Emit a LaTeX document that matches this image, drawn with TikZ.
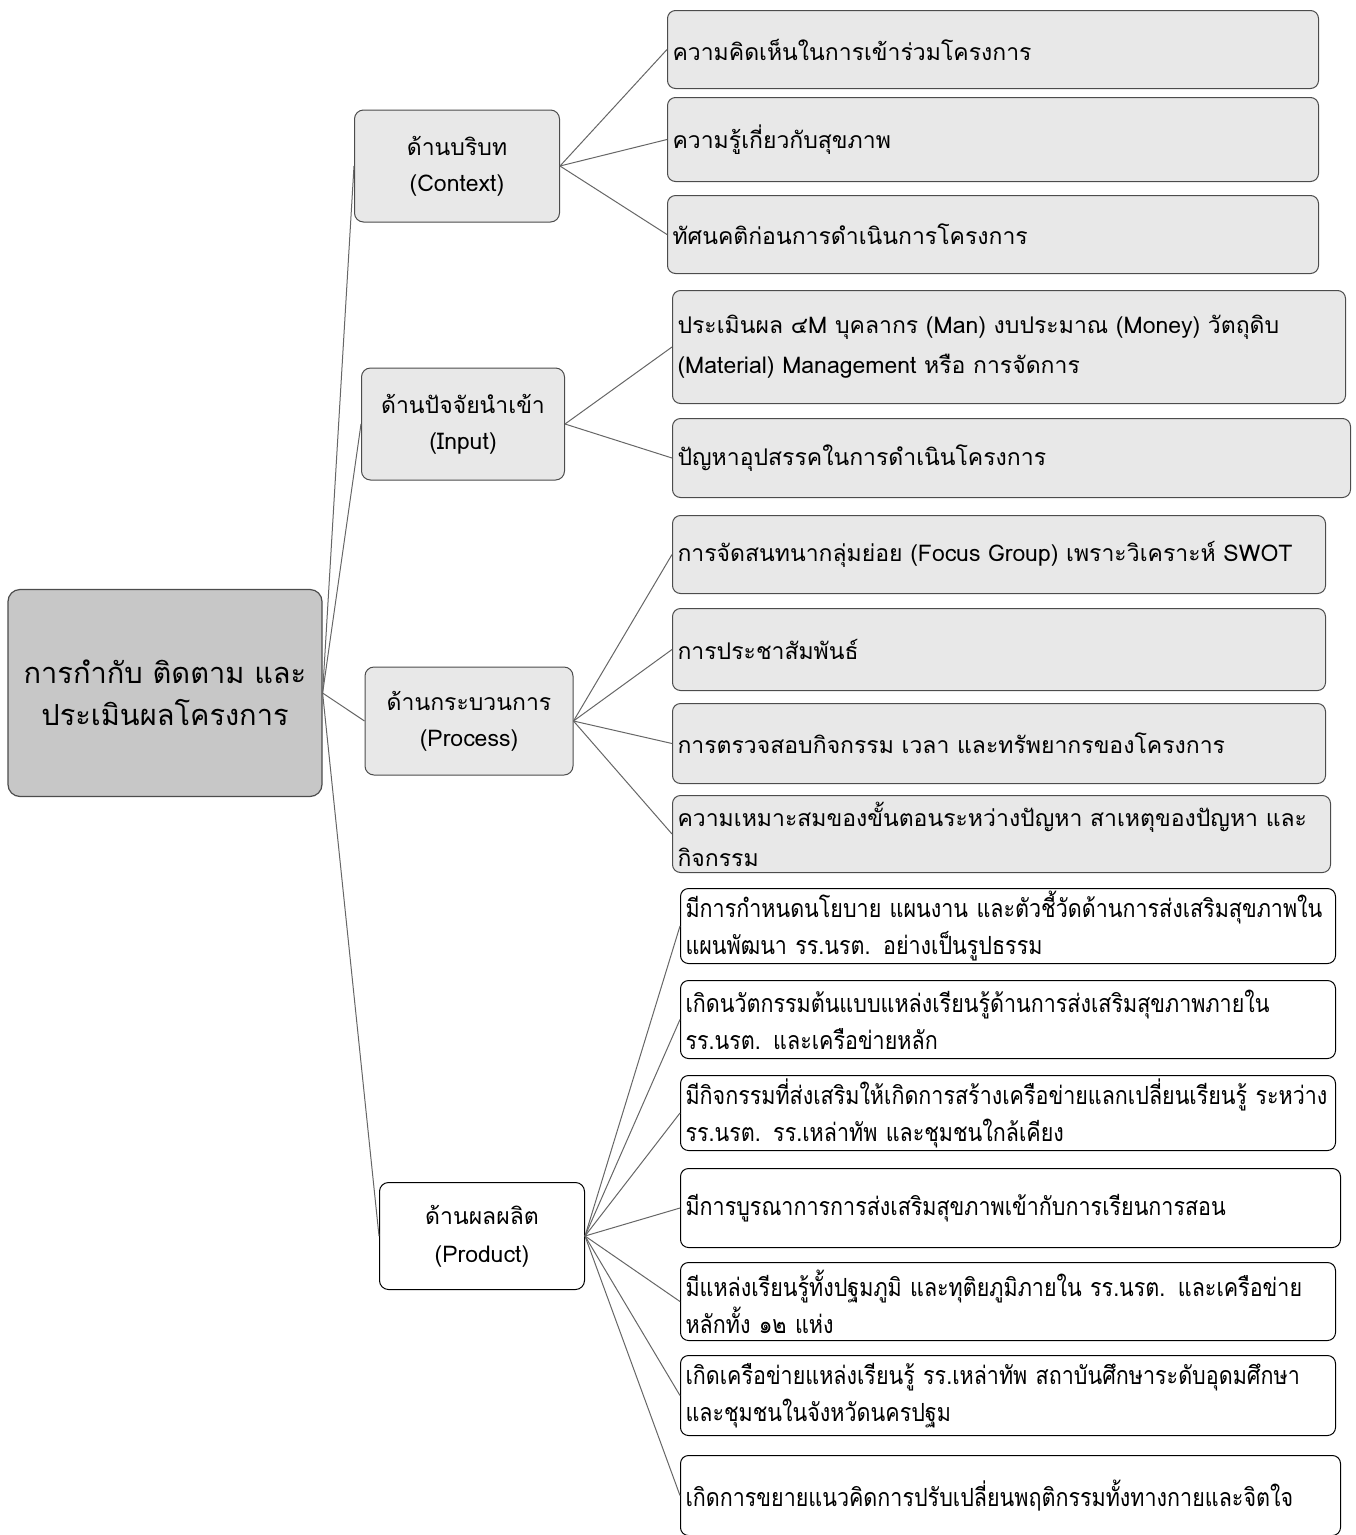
\documentclass[tikz,border=0pt]{standalone}
\usepackage{fontspec}
\setmainfont{Loma}[Script=Thai]
\newfontfamily\thaicond{Loma}[Script=Thai,FakeStretch=0.86]
\begin{document}
\begin{tikzpicture}[x=1pt,y=-1pt,
  rootbox/.style={draw=black!70,fill=black!22,rounded corners=12pt,line width=1.2pt,align=center,font=\fontsize{29}{42}\selectfont},
  catg/.style={draw=black!70,fill=black!9,rounded corners=9pt,line width=1pt,align=center,font=\fontsize{23}{36}\selectfont},
  catw/.style={draw=black,fill=white,rounded corners=9pt,line width=1pt,align=center,font=\fontsize{23}{38}\selectfont},
  leafg/.style={draw=black!70,fill=black!9,rounded corners=8pt,line width=1pt,align=left,anchor=north west,inner xsep=5pt,inner ysep=0pt,font=\fontsize{23}{40}\selectfont},
  leafw/.style={draw=black,fill=white,rounded corners=8pt,line width=1pt,align=left,anchor=north west,inner xsep=5pt,inner ysep=0pt,font=\thaicond\fontsize{25}{37}\selectfont},
  conn/.style={draw=black!60,line width=1pt}]
\useasboundingbox (0,0) rectangle (1356,1535);

% root
\node[rootbox,minimum width=314pt,minimum height=207pt] (root) at (165,693) {การกำกับ ติดตาม และ\\ประเมินผลโครงการ};

% categories
\node[catg,minimum width=205pt,minimum height=112pt] (ctx) at (457,166) {ด้านบริบท\\(Context)};
\node[catg,minimum width=203pt,minimum height=112pt] (inp) at (463,424) {ด้านปัจจัยนำเข้า\\(Input)};
\node[catg,minimum width=208pt,minimum height=108pt] (proc) at (469,721) {ด้านกระบวนการ\\(Process)};
\node[catw,minimum width=205pt,minimum height=107pt] (prod) at (482,1236) {ด้านผลผลิต\\(Product)};

% context leaves
\node[leafg,minimum width=651pt,text width=641pt,minimum height=78pt] (l1) at (667,10) {ความคิดเห็นในการเข้าร่วมโครงการ};
\node[leafg,minimum width=651pt,text width=641pt,minimum height=84pt] (l2) at (667,97) {ความรู้เกี่ยวกับสุขภาพ};
\node[leafg,minimum width=651pt,text width=641pt,minimum height=78pt] (l3) at (667,195) {ทัศนคติก่อนการดำเนินการโครงการ};

% input leaves
\node[leafg,minimum width=673pt,text width=663pt,minimum height=113pt] (l4) at (672,290) {ประเมินผล ๔M บุคลากร (Man) งบประมาณ (Money) วัตถุดิบ\\(Material) Management หรือ การจัดการ};
\node[leafg,minimum width=678pt,text width=668pt,minimum height=79pt] (l5) at (672,418) {ปัญหาอุปสรรคในการดำเนินโครงการ};

% process leaves
\node[leafg,minimum width=653pt,text width=643pt,minimum height=78pt] (l6) at (672,515) {การจัดสนทนากลุ่มย่อย (Focus Group) เพราะวิเคราะห์ SWOT};
\node[leafg,minimum width=653pt,text width=643pt,minimum height=82pt] (l7) at (672,608) {การประชาสัมพันธ์};
\node[leafg,minimum width=653pt,text width=643pt,minimum height=80pt] (l8) at (672,703) {การตรวจสอบกิจกรรม เวลา และทรัพยากรของโครงการ};
\node[leafg,minimum width=658pt,text width=648pt,minimum height=77pt] (l9) at (672,795) {ความเหมาะสมของขั้นตอนระหว่างปัญหา สาเหตุของปัญหา และ\\กิจกรรม};

% product leaves
\node[leafw,minimum width=655pt,text width=645pt,minimum height=75pt] (l10) at (680,888) {มีการกำหนดนโยบาย แผนงาน และตัวชี้วัดด้านการส่งเสริมสุขภาพใน\\แผนพัฒนา รร.นรต. อย่างเป็นรูปธรรม};
\node[leafw,minimum width=655pt,text width=645pt,minimum height=78pt] (l11) at (680,980) {เกิดนวัตกรรมต้นแบบแหล่งเรียนรู้ด้านการส่งเสริมสุขภาพภายใน\\รร.นรต. และเครือข่ายหลัก};
\node[leafw,minimum width=655pt,text width=645pt,minimum height=75pt] (l12) at (680,1075) {มีกิจกรรมที่ส่งเสริมให้เกิดการสร้างเครือข่ายแลกเปลี่ยนเรียนรู้ ระหว่าง\\รร.นรต. รร.เหล่าทัพ และชุมชนใกล้เคียง};
\node[leafw,minimum width=660pt,text width=650pt,minimum height=79pt] (l13) at (680,1168) {มีการบูรณาการการส่งเสริมสุขภาพเข้ากับการเรียนการสอน};
\node[leafw,minimum width=655pt,text width=645pt,minimum height=78pt] (l14) at (680,1262) {มีแหล่งเรียนรู้ทั้งปฐมภูมิ และทุติยภูมิภายใน รร.นรต. และเครือข่าย\\หลักทั้ง ๑๒ แห่ง};
\node[leafw,minimum width=655pt,text width=645pt,minimum height=80pt] (l15) at (680,1355) {เกิดเครือข่ายแหล่งเรียนรู้ รร.เหล่าทัพ สถาบันศึกษาระดับอุดมศึกษา\\และชุมชนในจังหวัดนครปฐม};
\node[leafw,minimum width=660pt,text width=650pt,minimum height=80pt] (l16) at (680,1455) {เกิดการขยายแนวคิดการปรับเปลี่ยนพฤติกรรมทั้งทางกายและจิตใจ};

% connectors root -> categories
\foreach \c in {ctx,inp,proc,prod} \draw[conn] (root.east) -- (\c.west);
% category -> leaves
\foreach \l in {l1,l2,l3} \draw[conn] (ctx.east) -- (\l.west);
\foreach \l in {l4,l5} \draw[conn] (inp.east) -- (\l.west);
\foreach \l in {l6,l7,l8,l9} \draw[conn] (proc.east) -- (\l.west);
\foreach \l in {l10,l11,l12,l13,l14,l15,l16} \draw[conn] (prod.east) -- (\l.west);
\end{tikzpicture}
\end{document}
